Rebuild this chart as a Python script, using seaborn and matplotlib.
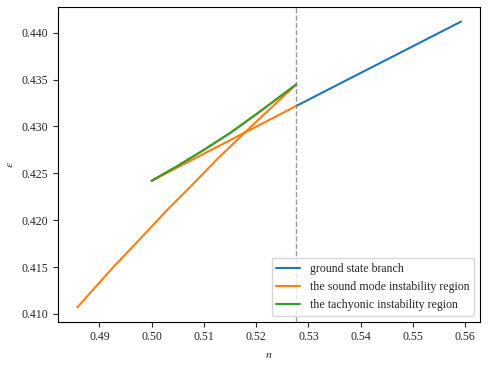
import pandas as pd
import matplotlib
matplotlib.use("Agg")
import matplotlib.pyplot as plt
import seaborn as sns

# values
n_crit = 0.5277

ground_n = [0.5277, 0.5592]
ground_eps = [0.4322, 0.4412]

# sound mode: lower branch up to the cusp, back along the upper branch, then across
sound_n = [0.4858, 0.4890, 0.4927, 0.4978, 0.5030, 0.5073, 0.5127, 0.5200, 0.5277,
           0.5200, 0.5150, 0.5100, 0.5050, 0.5000, 0.5277]
sound_eps = [0.4107, 0.4127, 0.4150, 0.4180, 0.4211, 0.4235, 0.4266, 0.4305, 0.4345,
             0.4313, 0.4293, 0.4275, 0.4258, 0.4242, 0.4322]

tachyon_n = [0.5000, 0.5050, 0.5100, 0.5150, 0.5200, 0.5277]
tachyon_eps = [0.4242, 0.4258, 0.4275, 0.4293, 0.4313, 0.4345]

labels = ["ground state branch", "the sound mode instability region",
          "the tachyonic instability region"]

frames = []
for lab, xs, ys in zip(labels, [ground_n, sound_n, tachyon_n],
                       [ground_eps, sound_eps, tachyon_eps]):
    frames.append(pd.DataFrame({"n": xs, "eps": ys, "branch": lab}))
df = pd.concat(frames, ignore_index=True)

sns.set_style("ticks")
plt.rcParams["font.family"] = ["Liberation Serif", "DejaVu Serif"]
plt.rcParams["mathtext.fontset"] = "stix"
plt.rcParams["font.size"] = 8.6

fig, ax = plt.subplots(figsize=(4.89, 3.65), dpi=100)
fig.subplots_adjust(left=0.119, right=0.982, bottom=0.119, top=0.98)

sns.lineplot(data=df, x="n", y="eps", hue="branch", hue_order=labels,
             palette=["#1f77b4", "#ff7f0e", "#2ca02c"], sort=False,
             estimator=None, linewidth=1.5, ax=ax)
ax.axvline(n_crit, color="gray", linestyle="--", linewidth=1, alpha=0.8)

ax.tick_params(labelsize=8.6)
ax.set_xlabel("$n$", fontsize=8.6)
ax.set_ylabel(r"$\varepsilon$", fontsize=8.6)
ax.legend(loc="lower right", title=None, fontsize=8.6)
for s in ax.spines.values():
    s.set_color("black")

plt.savefig("out.png", dpi=100)
